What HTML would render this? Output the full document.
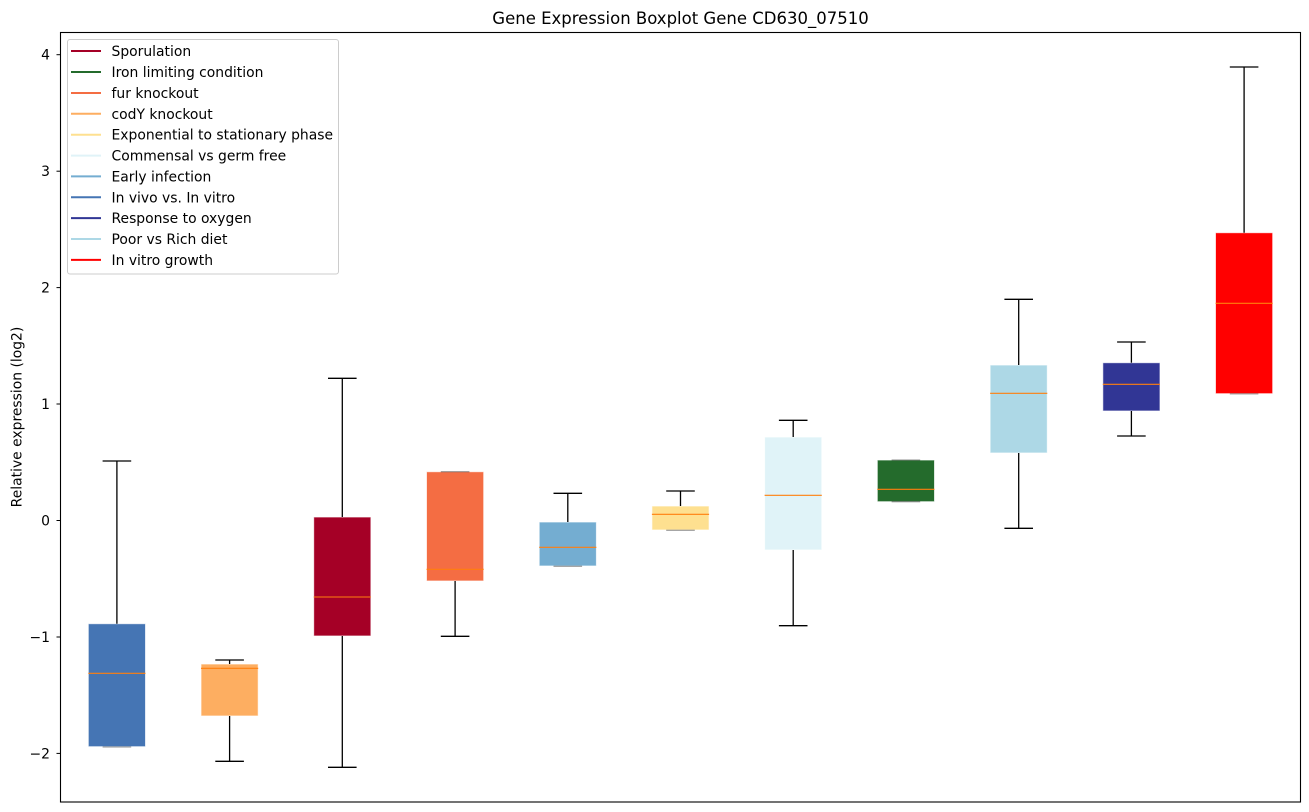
<!DOCTYPE html>
<html><head><meta charset="utf-8"><style>
html,body{margin:0;padding:0;background:#fff;}
svg{display:block;font-family:"DejaVu Sans","Liberation Sans",sans-serif;}
</style></head><body>
<svg width="1309" height="812" viewBox="0 0 1309 812" xmlns="http://www.w3.org/2000/svg">
<rect x="0" y="0" width="1309" height="812" fill="#fff"/>
<text x="680.5" y="24" font-size="16.5" text-anchor="middle" fill="#000">Gene Expression Boxplot Gene CD630_07510</text>

<g stroke="#ffffff" stroke-opacity="0.7" stroke-width="1">
<rect x="88.3" y="623.7" width="57.2" height="123" fill="#4575b4"/>
<rect x="201" y="664" width="57.2" height="52" fill="#fdae61"/>
<rect x="313.7" y="517" width="57.2" height="119" fill="#a50026"/>
<rect x="426.5" y="471.7" width="57.2" height="109.3" fill="#f46d43"/>
<rect x="539.2" y="522" width="57.2" height="44" fill="#74add1"/>
<rect x="651.9" y="506" width="57.2" height="24" fill="#fee090"/>
<rect x="764.6" y="437" width="57.2" height="113" fill="#e0f3f8"/>
<rect x="877.3" y="460" width="57.2" height="41.7" fill="#246b2c"/>
<rect x="990.1" y="365" width="57.2" height="88" fill="#add8e6"/>
<rect x="1102.8" y="362.7" width="57.2" height="48.3" fill="#313695"/>
<rect x="1215.5" y="232.7" width="57.2" height="161" fill="#ff0000"/>
</g>

<g stroke="#000" stroke-width="1.3" fill="none">
<!-- whiskers -->
<line x1="116.9" y1="623.7" x2="116.9" y2="461"/>
<line x1="229.6" y1="664" x2="229.6" y2="660"/>
<line x1="229.6" y1="716" x2="229.6" y2="761.3"/>
<line x1="342.3" y1="517" x2="342.3" y2="378.3"/>
<line x1="342.3" y1="636" x2="342.3" y2="767.3"/>
<line x1="455.1" y1="581" x2="455.1" y2="636.3"/>
<line x1="567.8" y1="522" x2="567.8" y2="493.3"/>
<line x1="680.5" y1="506" x2="680.5" y2="491"/>
<line x1="793.2" y1="437" x2="793.2" y2="420.3"/>
<line x1="793.2" y1="550" x2="793.2" y2="625.7"/>
<line x1="1018.7" y1="365" x2="1018.7" y2="299.3"/>
<line x1="1018.7" y1="453" x2="1018.7" y2="528.3"/>
<line x1="1131.4" y1="362.7" x2="1131.4" y2="342"/>
<line x1="1131.4" y1="411" x2="1131.4" y2="436"/>
<line x1="1244.1" y1="232.7" x2="1244.1" y2="67"/>
<!-- caps -->
<line x1="102.6" y1="461" x2="131.2" y2="461"/>
<line x1="102.6" y1="747" x2="131.2" y2="747" stroke-opacity="0.35"/>
<line x1="215.3" y1="660" x2="243.9" y2="660"/>
<line x1="215.3" y1="761.3" x2="243.9" y2="761.3"/>
<line x1="328" y1="378.3" x2="356.6" y2="378.3"/>
<line x1="328" y1="767.3" x2="356.6" y2="767.3"/>
<line x1="440.8" y1="471.7" x2="469.4" y2="471.7" stroke-opacity="0.35"/>
<line x1="440.8" y1="636.3" x2="469.4" y2="636.3"/>
<line x1="553.5" y1="493.3" x2="582.1" y2="493.3"/>
<line x1="553.5" y1="566.3" x2="582.1" y2="566.3" stroke-opacity="0.35"/>
<line x1="666.2" y1="491" x2="694.8" y2="491"/>
<line x1="666.2" y1="530.3" x2="694.8" y2="530.3" stroke-opacity="0.35"/>
<line x1="778.9" y1="420.3" x2="807.5" y2="420.3"/>
<line x1="778.9" y1="625.7" x2="807.5" y2="625.7"/>
<line x1="891.6" y1="460" x2="920.2" y2="460" stroke-opacity="0.35"/>
<line x1="891.6" y1="501.7" x2="920.2" y2="501.7" stroke-opacity="0.35"/>
<line x1="1004.4" y1="299.3" x2="1033" y2="299.3"/>
<line x1="1004.4" y1="528.3" x2="1033" y2="528.3"/>
<line x1="1117.1" y1="342" x2="1145.7" y2="342"/>
<line x1="1117.1" y1="436" x2="1145.7" y2="436"/>
<line x1="1229.8" y1="67" x2="1258.4" y2="67"/>
<line x1="1229.8" y1="393.9" x2="1258.4" y2="393.9" stroke-opacity="0.35"/>
</g>

<g stroke="#ff7f0e" stroke-width="1.1">
<line x1="88.3" y1="673.3" x2="145.5" y2="673.3"/>
<line x1="201" y1="668.3" x2="258.2" y2="668.3"/>
<line x1="313.7" y1="597" x2="370.9" y2="597"/>
<line x1="426.5" y1="569.3" x2="483.7" y2="569.3"/>
<line x1="539.2" y1="547.3" x2="596.4" y2="547.3"/>
<line x1="651.9" y1="514.3" x2="709.1" y2="514.3"/>
<line x1="764.6" y1="495.3" x2="821.8" y2="495.3"/>
<line x1="877.3" y1="489.3" x2="934.5" y2="489.3"/>
<line x1="990.1" y1="393.3" x2="1047.3" y2="393.3"/>
<line x1="1102.8" y1="384.3" x2="1160" y2="384.3"/>
<line x1="1215.5" y1="303.3" x2="1272.7" y2="303.3"/>
</g>

<!-- axes frame -->
<rect x="60.5" y="32.5" width="1240" height="769.5" fill="none" stroke="#000" stroke-width="1.1"/>

<!-- y ticks -->
<g stroke="#000" stroke-width="1">
<line x1="56.5" y1="54.7" x2="60.5" y2="54.7"/>
<line x1="56.5" y1="171.2" x2="60.5" y2="171.2"/>
<line x1="56.5" y1="287.6" x2="60.5" y2="287.6"/>
<line x1="56.5" y1="404" x2="60.5" y2="404"/>
<line x1="56.5" y1="520.5" x2="60.5" y2="520.5"/>
<line x1="56.5" y1="637" x2="60.5" y2="637"/>
<line x1="56.5" y1="753.4" x2="60.5" y2="753.4"/>
</g>
<g font-size="13.9" text-anchor="end" fill="#000">
<text x="50" y="59.7">4</text>
<text x="50" y="176.2">3</text>
<text x="50" y="292.6">2</text>
<text x="50" y="409">1</text>
<text x="50" y="525.5">0</text>
<text x="50" y="642">−1</text>
<text x="50" y="758.4">−2</text>
</g>
<text transform="translate(21.5,417) rotate(-90)" font-size="13.9" text-anchor="middle" fill="#000">Relative expression (log2)</text>

<!-- legend -->
<rect x="67.5" y="39.5" width="271" height="234.5" rx="2.5" fill="#fff" fill-opacity="0.8" stroke="#cccccc" stroke-width="1"/>
<g stroke-width="2">
<line x1="71" y1="51" x2="101" y2="51" stroke="#a50026"/>
<line x1="71" y1="72" x2="101" y2="72" stroke="#246b2c"/>
<line x1="71" y1="93" x2="101" y2="93" stroke="#f46d43"/>
<line x1="71" y1="113.8" x2="101" y2="113.8" stroke="#fdae61"/>
<line x1="71" y1="134.7" x2="101" y2="134.7" stroke="#fee090"/>
<line x1="71" y1="155.6" x2="101" y2="155.6" stroke="#e0f3f8"/>
<line x1="71" y1="176.4" x2="101" y2="176.4" stroke="#74add1"/>
<line x1="71" y1="197.3" x2="101" y2="197.3" stroke="#4575b4"/>
<line x1="71" y1="218.1" x2="101" y2="218.1" stroke="#313695"/>
<line x1="71" y1="239" x2="101" y2="239" stroke="#add8e6"/>
<line x1="71" y1="259.9" x2="101" y2="259.9" stroke="#ff0000"/>
</g>
<g font-size="13.9" fill="#000">
<text x="111.5" y="56">Sporulation</text>
<text x="111.5" y="77">Iron limiting condition</text>
<text x="111.5" y="98">fur knockout</text>
<text x="111.5" y="118.8">codY knockout</text>
<text x="111.5" y="139.7">Exponential to stationary phase</text>
<text x="111.5" y="160.6">Commensal vs germ free</text>
<text x="111.5" y="181.4">Early infection</text>
<text x="111.5" y="202.3">In vivo vs. In vitro</text>
<text x="111.5" y="223.1">Response to oxygen</text>
<text x="111.5" y="244">Poor vs Rich diet</text>
<text x="111.5" y="264.9">In vitro growth</text>
</g>
</svg>
</body></html>
